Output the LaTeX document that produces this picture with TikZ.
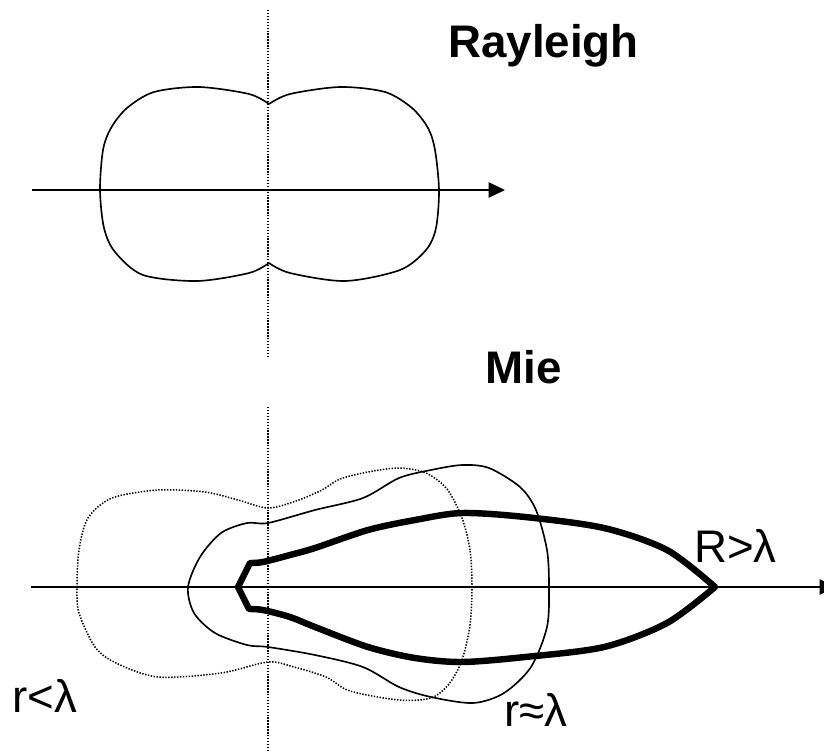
\documentclass[tikz,border=0pt]{standalone}
\usepackage{fontspec}
\setmainfont{Liberation Sans}
\usetikzlibrary{arrows.meta}

\begin{document}
\begin{tikzpicture}[
        x=0.03cm, y=-0.03cm,
        axisline/.style={line width=1.6pt, -{Triangle[length=14pt,width=13pt]}},
        guide/.style={line width=1.3pt, dash pattern=on 1.2pt off 1.3pt},
        lobe/.style={line width=1.4pt, line join=round},
        dotlobe/.style={line width=1.3pt, dash pattern=on 1.2pt off 1.3pt},
        heavylobe/.style={line width=5.5pt, line join=round},
        caption/.style={anchor=base west, inner sep=0pt, font=\fontsize{39}{46}\selectfont\bfseries},
        tag/.style={anchor=base west, inner sep=0pt, font=\fontsize{39}{46}\selectfont}
    ]
    \useasboundingbox (0,0) rectangle (824,755);

    % Rayleigh
    \coordinate (rayW) at (32,190);
    \coordinate (rayE) at (505,190);
    \coordinate (rayN) at (268,10);
    \coordinate (rayS) at (268,358);
    \draw[guide] (rayN) -- (rayS);
    \draw[lobe] plot[smooth] coordinates {(269,104) (290,94) (340,87) (385,92)
        (412,108) (428,128) (435,150) (439,190) (436,228) (426,250) (400,270)
        (345,281) (290,273) (269,263)}
        -- plot[smooth] coordinates {(269,263) (249,273) (197,281) (143,275)
        (115,252) (104,228) (100,190) (103,150) (111,128) (127,108) (154,92)
        (199,87) (249,94) (269,104)} -- cycle;
    \draw[axisline] (rayW) -- (rayE);
    \node[caption] (rayleigh) at (448,57) {Rayleigh};

    % Mie
    \coordinate (mieW) at (31,587);
    \coordinate (mieE) at (836,587);
    \coordinate (mieN) at (268,407);
    \coordinate (mieS) at (268,752);
    \draw[guide] (mieN) -- (mieS);
    \draw[dotlobe] plot[smooth cycle] coordinates {(472,587) (470,550) (462,518)
        (447,489) (426,473) (399,468) (368,472) (340,479) (322,490) (296,501)
        (268,508) (238,500) (205,492) (158,490) (112,498) (88,518) (79,550)
        (77,587) (79,613) (95,647) (116,663) (158,677) (221,673) (268,662)
        (294,667) (326,677) (350,691) (399,700) (431,698) (449,684) (462,660)
        (470,625)};
    \draw[lobe] plot[smooth cycle] coordinates {(549,587) (547,550) (536,510)
        (520,487) (489,468) (462,465) (431,470) (399,478) (363,498) (315,510)
        (268,523) (247,523) (221,533) (200,557) (188,587) (194,613) (215,633)
        (247,645) (268,647) (315,655) (363,667) (399,687) (431,697) (473,703)
        (504,693) (531,667) (547,627)};
    \draw[heavylobe] plot[smooth] coordinates {(250,563) (263,562) (290,555)
        (315,548) (368,530) (415,520) (462,513) (525,517) (604,528) (667,550)
        (715,587)}
        -- plot[smooth] coordinates {(715,587) (667,623) (604,647) (525,657)
        (462,662) (415,658) (368,647) (315,627) (290,617) (263,610) (249,609)}
        -- (238,587) -- cycle;
    \draw[axisline] (mieW) -- (mieE);
    \node[caption] (mie) at (485,383) {Mie};
    \node[tag] (big) at (694,562) {R>λ};
    \node[tag] (small) at (12,712) {r<λ};
    \node[tag] (mid) at (504,726) {r≈λ};
\end{tikzpicture}
\end{document}
